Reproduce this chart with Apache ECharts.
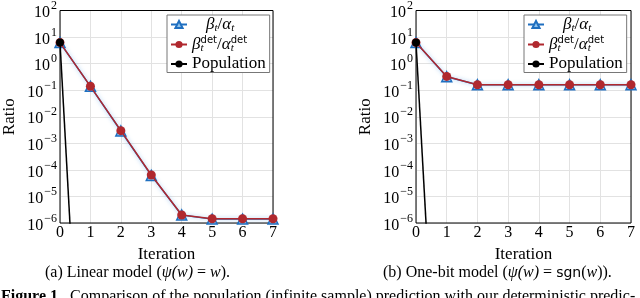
<!DOCTYPE html>
<html><head><meta charset="utf-8">
<script src="https://cdn.jsdelivr.net/npm/echarts@6/dist/echarts.min.js"></script>
<style>html,body{margin:0;padding:0;background:#fff}#c{width:640px;height:298px}</style>
</head><body><div id="c"></div>
<script>
const iterations = [0, 1, 2, 3, 4, 5, 6, 7];
const yTicks = [1e-6, 1e-5, 1e-4, 1e-3, 1e-2, 1e-1, 1e0, 1e1, 1e2];
// (a) Linear model
const linBeta = [6.2, 0.14, 0.0029, 6.2e-5, 2.0e-6, 1.4e-6, 1.4e-6, 1.4e-6];
const linDet = [6.2, 0.14, 0.0030, 6.4e-5, 2.0e-6, 1.45e-6, 1.45e-6, 1.45e-6];
// (b) One-bit model
const bitBeta = [6.2, 0.32, 0.16, 0.16, 0.16, 0.16, 0.16, 0.16];
const bitDet = [6.2, 0.33, 0.16, 0.16, 0.16, 0.16, 0.16, 0.16];
// Population (drops far below the axis minimum after iteration 0)
const popIter = [0, 1];
const popVals = [6.2, 1e-20];

const FONT = 'Liberation Serif';
const BLUE = '#1f6fc0', LBLUE = '#8fc3ec', RED = '#b0282e';

function pairs(xs, ys) { return xs.map((x, i) => [x, ys[i]]); }
function fmtY(v) {
  const e = Math.round(Math.log10(v));
  const s = e < 0 ? '\u2212' + (-e) : String(e);
  return '{b|10}{s|' + s + '}';
}
const yRich = {
  b: {fontFamily: FONT, fontSize: 16, color: '#000', lineHeight: 21, verticalAlign: 'bottom'},
  s: {fontFamily: FONT, fontSize: 12, color: '#000', verticalAlign: 'top', padding: [0, 0, 0, 1]}
};
const lgRich = {
  g1: {fontFamily: FONT, fontSize: 17, fontStyle: 'italic', color: '#000', padding: [0, 0, 0, 14]},
  g: {fontFamily: FONT, fontSize: 17, fontStyle: 'italic', color: '#000'},
  r: {fontFamily: FONT, fontSize: 17, color: '#000'},
  t: {fontFamily: FONT, fontSize: 11, fontStyle: 'italic', color: '#000', verticalAlign: 'bottom', lineHeight: 18},
  t0: {fontFamily: FONT, fontSize: 11, fontStyle: 'italic', color: '#000', verticalAlign: 'bottom', lineHeight: 18, width: 0.1},
  d: {fontFamily: 'DejaVu Sans', fontSize: 10, color: '#000', verticalAlign: 'top', lineHeight: 18},
  p: {fontFamily: FONT, fontSize: 17, color: '#000'}
};
function lgFmt(name) {
  if (name === 'beta') return '{g1|β}{t|t}{r|/}{g|α}{t|t}';
  if (name === 'det') return '{g|β}{t0|t}{d|det}{r|/}{g|α}{t0|t}{d|det}';
  return '{p|Population}';
}

const grids = [
  {left: 57, right: 367, top: 7, bottom: 75, show: true, borderColor: '#000', borderWidth: 1, z: 3},
  {left: 416, right: 9, top: 7, bottom: 75, show: true, borderColor: '#000', borderWidth: 1, z: 3}
];
function xAx(i) {
  return {
    type: 'value', gridIndex: i, min: 0, max: 7, interval: 1,
    name: 'Iteration', nameLocation: 'middle', nameGap: 16,
    nameTextStyle: {fontFamily: FONT, fontSize: 17, color: '#000'},
    axisLine: {show: false}, axisTick: {show: false},
    axisLabel: {fontFamily: FONT, fontSize: 16, color: '#000', margin: 2},
    splitLine: {show: true, lineStyle: {color: '#e2e2e2', width: 1}}
  };
}
function yAx(i) {
  return {
    type: 'log', logBase: 10, gridIndex: i, min: 1e-6, max: 1e2, splitNumber: 8,
    name: 'Ratio', nameLocation: 'middle', nameGap: 42,
    nameTextStyle: {fontFamily: FONT, fontSize: 17, color: '#000'},
    axisLine: {show: false}, axisTick: {show: false},
    axisLabel: {formatter: fmtY, rich: yRich, margin: 3},
    splitLine: {show: true, lineStyle: {color: '#e2e2e2', width: 1}}
  };
}
function seriesFor(i, beta, det) {
  return [
    {name: 'beta', type: 'line', xAxisIndex: i, yAxisIndex: i, data: pairs(iterations, beta),
     symbol: 'triangle', symbolSize: 10, z: 3,
     itemStyle: {color: LBLUE, borderColor: BLUE, borderWidth: 1.5},
     lineStyle: {color: BLUE, width: 1.5, shadowColor: 'rgba(120,180,235,0.8)', shadowBlur: 4}},
    {name: 'det', type: 'line', xAxisIndex: i, yAxisIndex: i, data: pairs(iterations, det),
     symbol: 'circle', symbolSize: 9, z: 4,
     itemStyle: {color: RED}, lineStyle: {color: RED, width: 1.5}},
    {name: 'pop', type: 'line', xAxisIndex: i, yAxisIndex: i, data: pairs(popIter, popVals),
     symbol: 'circle', symbolSize: 8, z: 5, clip: true,
     itemStyle: {color: '#000'}, lineStyle: {color: '#000', width: 1.5}}
  ];
}
function legendFor(left) {
  return {
    left: left, top: 15, width: 100, orient: 'vertical', itemGap: 2,
    itemWidth: 16, itemHeight: 9,
    data: ['beta', 'det', 'pop'],
    formatter: lgFmt, textStyle: {rich: lgRich},
    borderColor: '#777', borderWidth: 1, backgroundColor: '#fff', padding: [1, 4, 0, 3],
    selectedMode: false, z: 10
  };
}
const capRich = {
  r: {fontFamily: FONT, fontSize: 16, color: '#000'},
  i: {fontFamily: FONT, fontSize: 16, fontStyle: 'italic', color: '#000'},
  s: {fontFamily: 'DejaVu Sans', fontSize: 14, color: '#000'}
};
const capRich2 = {
  b: {fontFamily: FONT, fontSize: 16, fontWeight: 'bold', color: '#000'},
  r: {fontFamily: FONT, fontSize: 16, color: '#000'}
};
const option = {
  animation: false,
  grid: grids,
  xAxis: [xAx(0), xAx(1)],
  yAxis: [yAx(0), yAx(1)],
  legend: [legendFor(167), legendFor(524)],
  series: [...seriesFor(0, linBeta, linDet), ...seriesFor(1, bitBeta, bitDet)],
  graphic: [
    {type: 'text', left: 45, top: 265, style: {rich: capRich,
      text: '{r|(a) Linear model (}{i|ψ(w)}{r| = }{i|w}{r|).}'}},
    {type: 'text', left: 383, top: 265, style: {rich: capRich,
      text: '{r|(b) One-bit model (}{i|ψ(w)}{r| = }{s|sgn}{r|(}{i|w}{r|)).}'}},
    {type: 'text', left: 1, top: 289, style: {rich: capRich2,
      text: '{b|Figure 1.}{r|  Comparison of the population (infinite sample) prediction with our deterministic predic-}'}}
  ]
};
const chart = echarts.init(document.getElementById('c'), null, {renderer: 'canvas'});
chart.setOption(option);
</script></body></html>
